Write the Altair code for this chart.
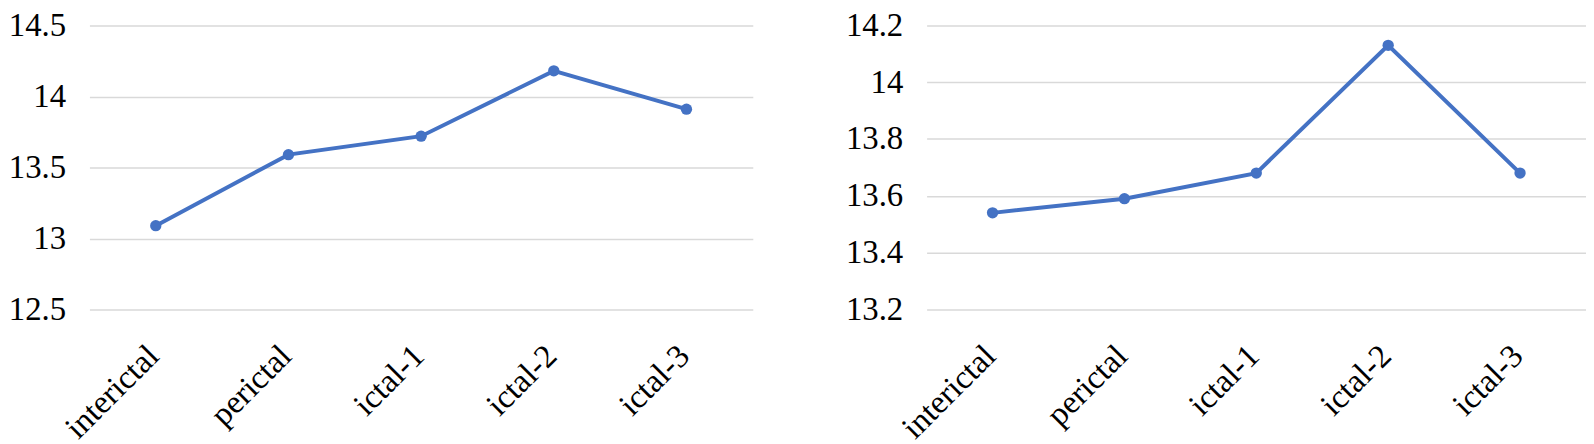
import altair as alt
import pandas as pd

categories = ["interictal", "perictal", "ictal-1", "ictal-2", "ictal-3"]
left_values = [13.09, 13.59, 13.72, 14.18, 13.91]
right_values = [13.54, 13.59, 13.68, 14.13, 13.68]
left_ticks = [12.5, 13, 13.5, 14, 14.5]
right_ticks = [13.2, 13.4, 13.6, 13.8, 14.0, 14.2]

FONT = "Liberation Serif"
BLUE = "#4472C4"


def panel(values, ticks, width):
    df = pd.DataFrame({"cat": categories, "val": values})
    x = alt.X(
        "cat:N",
        sort=categories,
        scale=alt.Scale(type="point", padding=0.5),
        axis=alt.Axis(
            title=None, labelAngle=-45, labelFontSize=33,
            labelColor="black", domain=False, ticks=False, grid=False,
            labelPadding=30, labelOffset=-14,
        ),
    )
    y = alt.Y(
        "val:Q",
        scale=alt.Scale(domain=[ticks[0], ticks[-1]], nice=False, zero=False),
        axis=alt.Axis(
            title=None, values=ticks, format="~g",
            labelFontSize=33, labelColor="black", domain=False, ticks=False,
            grid=True, gridColor="#d9d9d9", gridWidth=1.5, labelPadding=24,
        ),
    )
    base = alt.Chart(df).encode(x=x, y=y)
    line = base.mark_line(color=BLUE, strokeWidth=4)
    pts = base.mark_point(color=BLUE, filled=True, opacity=1, size=130)
    return (line + pts).properties(width=width, height=286)


chart = (
    alt.hconcat(
        panel(left_values, left_ticks, 668),
        panel(right_values, right_ticks, 664),
        spacing=93,
    )
    .configure(padding=0, font=FONT)
    .configure_axis(labelFont=FONT)
    .configure_view(stroke="transparent", strokeWidth=0)
)

chart.save("out.html", embed_options={"renderer": "svg", "actions": False})
